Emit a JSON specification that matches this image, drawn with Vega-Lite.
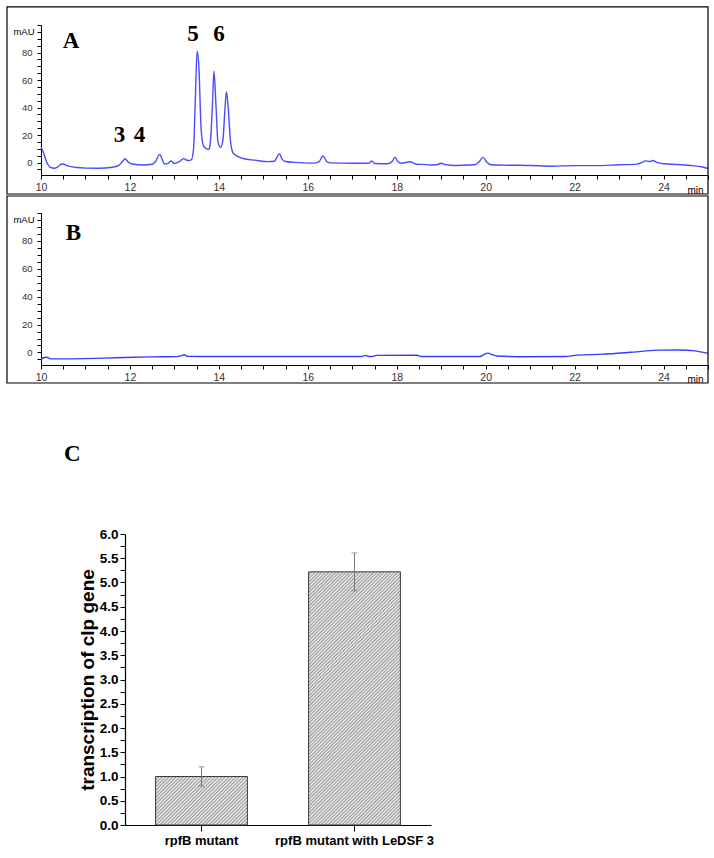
{
  "$schema": "https://vega.github.io/schema/vega-lite/v6.json",
  "padding": {"left": 6, "top": 6, "right": 0, "bottom": 0},
  "background": "white",
  "config": {
    "view": {"stroke": null},
    "font": "Liberation Sans",
    "axis": {"grid": false, "domainColor": "black", "tickColor": "black", "labelColor": "#333", "labelOverlap": false, "labelFlush": false}
  },
  "datasets": {
    "traceA": [
      {"t": 10.0, "v": 11}, {"t": 10.06, "v": 7}, {"t": 10.12, "v": 1}, {"t": 10.2, "v": -3.2}, {"t": 10.3, "v": -4.1},
      {"t": 10.38, "v": -3}, {"t": 10.45, "v": -1.2}, {"t": 10.5, "v": -1.0}, {"t": 10.6, "v": -2.4}, {"t": 10.8, "v": -3.6},
      {"t": 11.0, "v": -4.0}, {"t": 11.3, "v": -4.1}, {"t": 11.6, "v": -3.4}, {"t": 11.75, "v": -2.0}, {"t": 11.82, "v": 0.2},
      {"t": 11.89, "v": 2.8}, {"t": 11.96, "v": 0.5}, {"t": 12.05, "v": -1}, {"t": 12.3, "v": -1.7}, {"t": 12.5, "v": -1.2},
      {"t": 12.58, "v": 1}, {"t": 12.67, "v": 6}, {"t": 12.73, "v": 2}, {"t": 12.78, "v": -1}, {"t": 12.85, "v": -0.6},
      {"t": 12.93, "v": 1.2}, {"t": 13.0, "v": -0.7}, {"t": 13.1, "v": 0.5}, {"t": 13.21, "v": 2.9}, {"t": 13.3, "v": 1.5},
      {"t": 13.38, "v": 2}, {"t": 13.43, "v": 10}, {"t": 13.47, "v": 45}, {"t": 13.51, "v": 81}, {"t": 13.55, "v": 70},
      {"t": 13.6, "v": 25}, {"t": 13.65, "v": 12.5}, {"t": 13.72, "v": 10}, {"t": 13.77, "v": 9.5}, {"t": 13.8, "v": 12},
      {"t": 13.85, "v": 38}, {"t": 13.89, "v": 66.5}, {"t": 13.93, "v": 45}, {"t": 13.98, "v": 15}, {"t": 14.04, "v": 11.2},
      {"t": 14.09, "v": 16}, {"t": 14.13, "v": 35}, {"t": 14.17, "v": 51.5}, {"t": 14.21, "v": 40}, {"t": 14.26, "v": 16},
      {"t": 14.32, "v": 7}, {"t": 14.42, "v": 4.5}, {"t": 14.6, "v": 2.6}, {"t": 14.8, "v": 1.8}, {"t": 15.1, "v": 0.7},
      {"t": 15.25, "v": 1.0}, {"t": 15.3, "v": 3.5}, {"t": 15.36, "v": 6.5}, {"t": 15.42, "v": 2.5}, {"t": 15.5, "v": 0.8},
      {"t": 15.7, "v": 0.2}, {"t": 16.1, "v": -0.4}, {"t": 16.25, "v": 0.5}, {"t": 16.34, "v": 4.8}, {"t": 16.42, "v": 1},
      {"t": 16.5, "v": -0.2}, {"t": 17.0, "v": -0.5}, {"t": 17.38, "v": -0.4}, {"t": 17.44, "v": 1.2}, {"t": 17.5, "v": -0.6},
      {"t": 17.8, "v": -0.8}, {"t": 17.9, "v": 1}, {"t": 17.96, "v": 3.8}, {"t": 18.02, "v": 1}, {"t": 18.1, "v": -0.5},
      {"t": 18.3, "v": 0.6}, {"t": 18.45, "v": -1.2}, {"t": 18.6, "v": -1.3}, {"t": 18.75, "v": -1.7}, {"t": 18.9, "v": -1.5},
      {"t": 19.0, "v": -0.5}, {"t": 19.1, "v": -1.5}, {"t": 19.3, "v": -2.1}, {"t": 19.75, "v": -1.5}, {"t": 19.85, "v": 0.5},
      {"t": 19.94, "v": 3.8}, {"t": 20.02, "v": 0.5}, {"t": 20.12, "v": -1.5}, {"t": 20.4, "v": -1.8}, {"t": 21.0, "v": -2.1},
      {"t": 21.5, "v": -2.6}, {"t": 22.0, "v": -2.2}, {"t": 22.5, "v": -2.2}, {"t": 23.0, "v": -1.6}, {"t": 23.4, "v": -1.1},
      {"t": 23.52, "v": 0.2}, {"t": 23.6, "v": 1.3}, {"t": 23.68, "v": 0.8}, {"t": 23.76, "v": 1.5}, {"t": 23.85, "v": 0.2},
      {"t": 24.0, "v": -0.8}, {"t": 24.3, "v": -1.4}, {"t": 24.65, "v": -2.2}, {"t": 24.85, "v": -3.0}, {"t": 25.0, "v": -4.3}
    ],
    "traceB": [
      {"t": 10.0, "v": -4.8}, {"t": 10.06, "v": -3.8}, {"t": 10.13, "v": -3.4}, {"t": 10.22, "v": -4.6}, {"t": 10.5, "v": -4.6},
      {"t": 11.0, "v": -4.4}, {"t": 11.7, "v": -3.8}, {"t": 12.5, "v": -3.2}, {"t": 13.05, "v": -3.0}, {"t": 13.15, "v": -2.4},
      {"t": 13.22, "v": -1.7}, {"t": 13.3, "v": -2.8}, {"t": 13.6, "v": -2.9}, {"t": 17.2, "v": -2.9}, {"t": 17.3, "v": -2.1},
      {"t": 17.37, "v": -2.9}, {"t": 17.45, "v": -2.9}, {"t": 17.55, "v": -2.1}, {"t": 18.45, "v": -2.0}, {"t": 18.56, "v": -2.9},
      {"t": 19.87, "v": -2.9}, {"t": 19.97, "v": -1.4}, {"t": 20.05, "v": -0.5}, {"t": 20.15, "v": -1.6}, {"t": 20.25, "v": -2.5},
      {"t": 20.9, "v": -3.1}, {"t": 21.8, "v": -2.9}, {"t": 22.0, "v": -2.1}, {"t": 22.5, "v": -1.4}, {"t": 22.9, "v": -0.8},
      {"t": 23.5, "v": 0.8}, {"t": 23.9, "v": 1.7}, {"t": 24.35, "v": 1.8}, {"t": 24.7, "v": 1.1}, {"t": 25.0, "v": -0.7}
    ],
    "labelsA": [
      {"label": "A", "t": 10.675, "v": 88.4},
      {"label": "5", "t": 13.418, "v": 93.5},
      {"label": "6", "t": 14.003, "v": 93.5},
      {"label": "3", "t": 11.765, "v": 20.4},
      {"label": "4", "t": 12.215, "v": 20.4}
    ],
    "labelsB": [
      {"label": "B", "t": 10.73, "v": 85.7}
    ],
    "bars": [
      {"group": "rpfB mutant", "mean": 1.0, "lo": 0.8, "hi": 1.2},
      {"group": "rpfB mutant with LeDSF 3", "mean": 5.22, "lo": 4.83, "hi": 5.61}
    ]
  },
  "spacing": 59,
  "vconcat": [
    {
      "spacing": 0,
      "vconcat": [
        {
          "width": 667,
          "height": 150,
          "layer": [
            {
              "data": {"name": "traceA"},
              "mark": {"type": "line", "color": "#4b4bff", "strokeWidth": 1.4, "interpolate": "monotone"},
              "encoding": {
                "x": {"field": "t", "type": "quantitative", "title": "min", "scale": {"domain": [10, 25], "nice": false, "zero": false},
                  "axis": {"tickCount": 30, "labelExpr": "datum.value % 2 == 0 ? format(datum.value, 'd') : ''", "titleX": 662, "titleY": 15, "titleAlign": "right", "titleBaseline": "middle", "titleFontSize": 10, "titleFontWeight": "normal", "labelFontSize": 10.5, "tickSize": 4, "labelPadding": 3, "labelOverlap": false}},
                "y": {"field": "v", "type": "quantitative", "title": "mAU", "scale": {"domain": [-9, 100], "nice": false, "zero": false},
                  "axis": {"tickCount": 22, "labelExpr": "datum.value % 20 == 0 && datum.value < 100 ? format(datum.value, 'd') : ''", "titleAngle": 0, "titleX": -7, "titleY": 6, "titleAlign": "right", "titleBaseline": "middle", "titleFontSize": 9.5, "titleFontWeight": "normal", "labelFontSize": 9.5, "tickSize": 4, "labelPadding": 5, "labelOverlap": false}}
              }
            },
            {
              "data": {"values": [{}]},
              "mark": {"type": "rect", "filled": false, "color": "black", "strokeWidth": 1.2},
              "encoding": {
                "x": {"datum": 9.235, "type": "quantitative", "title": "min", "scale": {"domain": [10, 25], "nice": false, "zero": false},
                  "axis": {"tickCount": 30, "labelExpr": "datum.value % 2 == 0 ? format(datum.value, 'd') : ''", "titleX": 662, "titleY": 15, "titleAlign": "right", "titleBaseline": "middle", "titleFontSize": 10, "titleFontWeight": "normal", "labelFontSize": 10.5, "tickSize": 4, "labelPadding": 3, "labelOverlap": false}},
                "x2": {"datum": 25},
                "y": {"datum": -22.8, "type": "quantitative", "title": "mAU", "scale": {"domain": [-9, 100], "nice": false, "zero": false},
                  "axis": {"tickCount": 22, "labelExpr": "datum.value % 20 == 0 && datum.value < 100 ? format(datum.value, 'd') : ''", "titleAngle": 0, "titleX": -7, "titleY": 6, "titleAlign": "right", "titleBaseline": "middle", "titleFontSize": 9.5, "titleFontWeight": "normal", "labelFontSize": 9.5, "tickSize": 4, "labelPadding": 5, "labelOverlap": false}},
                "y2": {"datum": 113.1}
              }
            },
            {
              "data": {"name": "labelsA"},
              "mark": {"type": "text", "font": "Liberation Serif", "fontWeight": "bold", "fontSize": 23, "color": "black", "baseline": "middle", "align": "center"},
              "encoding": {
                "x": {"field": "t", "type": "quantitative", "title": "min", "scale": {"domain": [10, 25], "nice": false, "zero": false},
                  "axis": {"tickCount": 30, "labelExpr": "datum.value % 2 == 0 ? format(datum.value, 'd') : ''", "titleX": 662, "titleY": 15, "titleAlign": "right", "titleBaseline": "middle", "titleFontSize": 10, "titleFontWeight": "normal", "labelFontSize": 10.5, "tickSize": 4, "labelPadding": 3, "labelOverlap": false}},
                "y": {"field": "v", "type": "quantitative", "title": "mAU", "scale": {"domain": [-9, 100], "nice": false, "zero": false},
                  "axis": {"tickCount": 22, "labelExpr": "datum.value % 20 == 0 && datum.value < 100 ? format(datum.value, 'd') : ''", "titleAngle": 0, "titleX": -7, "titleY": 6, "titleAlign": "right", "titleBaseline": "middle", "titleFontSize": 9.5, "titleFontWeight": "normal", "labelFontSize": 9.5, "tickSize": 4, "labelPadding": 5, "labelOverlap": false}},
                "text": {"field": "label"}
              }
            }
          ]
        },
        {
          "width": 667,
          "height": 152,
          "layer": [
            {
              "data": {"name": "traceB"},
              "mark": {"type": "line", "color": "#3a3aff", "strokeWidth": 1.4, "interpolate": "monotone"},
              "encoding": {
                "x": {"field": "t", "type": "quantitative", "title": "min", "scale": {"domain": [10, 25], "nice": false, "zero": false},
                  "axis": {"tickCount": 30, "labelExpr": "datum.value % 2 == 0 ? format(datum.value, 'd') : ''", "titleX": 662, "titleY": 14, "titleAlign": "right", "titleBaseline": "middle", "titleFontSize": 10, "titleFontWeight": "normal", "labelFontSize": 10.5, "tickSize": 4, "labelPadding": 3, "labelOverlap": false}},
                "y": {"field": "v", "type": "quantitative", "title": "mAU", "scale": {"domain": [-9, 100], "nice": false, "zero": false},
                  "axis": {"tickCount": 22, "labelExpr": "datum.value % 20 == 0 && datum.value < 100 ? format(datum.value, 'd') : ''", "titleAngle": 0, "titleX": -7, "titleY": 6, "titleAlign": "right", "titleBaseline": "middle", "titleFontSize": 9.5, "titleFontWeight": "normal", "labelFontSize": 9.5, "tickSize": 4, "labelPadding": 5, "labelOverlap": false}}
              }
            },
            {
              "data": {"values": [{}]},
              "mark": {"type": "rect", "filled": false, "color": "black", "strokeWidth": 1.2},
              "encoding": {
                "x": {"datum": 9.235, "type": "quantitative", "title": "min", "scale": {"domain": [10, 25], "nice": false, "zero": false},
                  "axis": {"tickCount": 30, "labelExpr": "datum.value % 2 == 0 ? format(datum.value, 'd') : ''", "titleX": 662, "titleY": 14, "titleAlign": "right", "titleBaseline": "middle", "titleFontSize": 10, "titleFontWeight": "normal", "labelFontSize": 10.5, "tickSize": 4, "labelPadding": 3, "labelOverlap": false}},
                "x2": {"datum": 25},
                "y": {"datum": -21.9, "type": "quantitative", "title": "mAU", "scale": {"domain": [-9, 100], "nice": false, "zero": false},
                  "axis": {"tickCount": 22, "labelExpr": "datum.value % 20 == 0 && datum.value < 100 ? format(datum.value, 'd') : ''", "titleAngle": 0, "titleX": -7, "titleY": 6, "titleAlign": "right", "titleBaseline": "middle", "titleFontSize": 9.5, "titleFontWeight": "normal", "labelFontSize": 9.5, "tickSize": 4, "labelPadding": 5, "labelOverlap": false}},
                "y2": {"datum": 112.2}
              }
            },
            {
              "data": {"name": "labelsB"},
              "mark": {"type": "text", "font": "Liberation Serif", "fontWeight": "bold", "fontSize": 23, "color": "black", "baseline": "middle", "align": "center"},
              "encoding": {
                "x": {"field": "t", "type": "quantitative", "title": "min", "scale": {"domain": [10, 25], "nice": false, "zero": false},
                  "axis": {"tickCount": 30, "labelExpr": "datum.value % 2 == 0 ? format(datum.value, 'd') : ''", "titleX": 662, "titleY": 14, "titleAlign": "right", "titleBaseline": "middle", "titleFontSize": 10, "titleFontWeight": "normal", "labelFontSize": 10.5, "tickSize": 4, "labelPadding": 3, "labelOverlap": false}},
                "y": {"field": "v", "type": "quantitative", "title": "mAU", "scale": {"domain": [-9, 100], "nice": false, "zero": false},
                  "axis": {"tickCount": 22, "labelExpr": "datum.value % 20 == 0 && datum.value < 100 ? format(datum.value, 'd') : ''", "titleAngle": 0, "titleX": -7, "titleY": 6, "titleAlign": "right", "titleBaseline": "middle", "titleFontSize": 9.5, "titleFontWeight": "normal", "labelFontSize": 9.5, "tickSize": 4, "labelPadding": 5, "labelOverlap": false}},
                "text": {"field": "label"}
              }
            }
          ]
        }
      ]
    },
    {
      "width": 390,
      "height": 291,
      "title": {"text": "C", "anchor": "start", "frame": "group", "dx": 23, "offset": 43, "font": "Liberation Serif", "fontSize": 23, "fontWeight": "bold", "baseline": "alphabetic", "color": "black"},
      "data": {"name": "bars"},
      "layer": [
        {
          "transform": [{"filter": "datum.group == 'rpfB mutant'"}],
          "mark": {"type": "bar", "stroke": "#3a3a3a", "strokeWidth": 1,
            "fill": {"gradient": "linear", "x1": 0, "y1": 0, "x2": 1.1949, "y2": 0.6313, "stops": [
              {"offset": 0, "color": "#999"}, {"offset": 0.0125, "color": "#f4f4f4"}, {"offset": 0.025, "color": "#999"}, {"offset": 0.0375, "color": "#f4f4f4"},
              {"offset": 0.05, "color": "#999"}, {"offset": 0.0625, "color": "#f4f4f4"}, {"offset": 0.075, "color": "#999"}, {"offset": 0.0875, "color": "#f4f4f4"},
              {"offset": 0.1, "color": "#999"}, {"offset": 0.1125, "color": "#f4f4f4"}, {"offset": 0.125, "color": "#999"}, {"offset": 0.1375, "color": "#f4f4f4"},
              {"offset": 0.15, "color": "#999"}, {"offset": 0.1625, "color": "#f4f4f4"}, {"offset": 0.175, "color": "#999"}, {"offset": 0.1875, "color": "#f4f4f4"},
              {"offset": 0.2, "color": "#999"}, {"offset": 0.2125, "color": "#f4f4f4"}, {"offset": 0.225, "color": "#999"}, {"offset": 0.2375, "color": "#f4f4f4"},
              {"offset": 0.25, "color": "#999"}, {"offset": 0.2625, "color": "#f4f4f4"}, {"offset": 0.275, "color": "#999"}, {"offset": 0.2875, "color": "#f4f4f4"},
              {"offset": 0.3, "color": "#999"}, {"offset": 0.3125, "color": "#f4f4f4"}, {"offset": 0.325, "color": "#999"}, {"offset": 0.3375, "color": "#f4f4f4"},
              {"offset": 0.35, "color": "#999"}, {"offset": 0.3625, "color": "#f4f4f4"}, {"offset": 0.375, "color": "#999"}, {"offset": 0.3875, "color": "#f4f4f4"},
              {"offset": 0.4, "color": "#999"}, {"offset": 0.4125, "color": "#f4f4f4"}, {"offset": 0.425, "color": "#999"}, {"offset": 0.4375, "color": "#f4f4f4"},
              {"offset": 0.45, "color": "#999"}, {"offset": 0.4625, "color": "#f4f4f4"}, {"offset": 0.475, "color": "#999"}, {"offset": 0.4875, "color": "#f4f4f4"},
              {"offset": 0.5, "color": "#999"}, {"offset": 0.5125, "color": "#f4f4f4"}, {"offset": 0.525, "color": "#999"}, {"offset": 0.5375, "color": "#f4f4f4"},
              {"offset": 0.55, "color": "#999"}, {"offset": 0.5625, "color": "#f4f4f4"}, {"offset": 0.575, "color": "#999"}, {"offset": 0.5875, "color": "#f4f4f4"},
              {"offset": 0.6, "color": "#999"}, {"offset": 0.6125, "color": "#f4f4f4"}, {"offset": 0.625, "color": "#999"}, {"offset": 0.6375, "color": "#f4f4f4"},
              {"offset": 0.65, "color": "#999"}, {"offset": 0.6625, "color": "#f4f4f4"}, {"offset": 0.675, "color": "#999"}, {"offset": 0.6875, "color": "#f4f4f4"},
              {"offset": 0.7, "color": "#999"}, {"offset": 0.7125, "color": "#f4f4f4"}, {"offset": 0.725, "color": "#999"}, {"offset": 0.7375, "color": "#f4f4f4"},
              {"offset": 0.75, "color": "#999"}, {"offset": 0.7625, "color": "#f4f4f4"}, {"offset": 0.775, "color": "#999"}, {"offset": 0.7875, "color": "#f4f4f4"},
              {"offset": 0.8, "color": "#999"}, {"offset": 0.8125, "color": "#f4f4f4"}, {"offset": 0.825, "color": "#999"}, {"offset": 0.8375, "color": "#f4f4f4"},
              {"offset": 0.85, "color": "#999"}, {"offset": 0.8625, "color": "#f4f4f4"}, {"offset": 0.875, "color": "#999"}, {"offset": 0.8875, "color": "#f4f4f4"},
              {"offset": 0.9, "color": "#999"}, {"offset": 0.9125, "color": "#f4f4f4"}, {"offset": 0.925, "color": "#999"}, {"offset": 0.9375, "color": "#f4f4f4"},
              {"offset": 0.95, "color": "#999"}, {"offset": 0.9625, "color": "#f4f4f4"}, {"offset": 0.975, "color": "#999"}, {"offset": 0.9875, "color": "#f4f4f4"},
              {"offset": 1, "color": "#999"}
            ]}},
          "encoding": {
            "x": {"field": "group", "type": "nominal", "sort": null, "title": null,
              "scale": {"domain": ["rpfB mutant", "rpfB mutant with LeDSF 3"], "range": [84, 390], "paddingInner": 0.4, "paddingOuter": 0.2},
              "axis": {"labelAngle": 0, "labelFontSize": 13, "labelFontWeight": "bold", "labelColor": "black", "tickSize": 6, "labelPadding": 3, "domainWidth": 1.2}},
            "y": {"field": "mean", "type": "quantitative", "title": "transcription of clp gene", "scale": {"domain": [0, 6], "nice": false},
              "axis": {"values": [0,0.25,0.5,0.75,1,1.25,1.5,1.75,2,2.25,2.5,2.75,3,3.25,3.5,3.75,4,4.25,4.5,4.75,5,5.25,5.5,5.75,6], "labelExpr": "(datum.value * 4) % 2 == 0 ? format(datum.value, '.1f') : ''", "labelOverlap": false,
                "offset": -84, "titleFontSize": 19, "titleFontWeight": "bold", "titleColor": "black",
                "labelFontSize": 13.5, "labelFontWeight": "bold", "labelColor": "black", "tickSize": 5, "labelPadding": 2, "titlePadding": 2, "domainWidth": 1.2}}
          }
        },
        {
          "transform": [{"filter": "datum.group == 'rpfB mutant with LeDSF 3'"}],
          "mark": {"type": "bar", "stroke": "#3a3a3a", "strokeWidth": 1,
            "fill": {"gradient": "linear", "x1": 0, "y1": 0, "x2": 0.43667, "y2": 1.20429, "stops": [
              {"offset": 0, "color": "#999"}, {"offset": 0.005, "color": "#f4f4f4"}, {"offset": 0.01, "color": "#999"}, {"offset": 0.015, "color": "#f4f4f4"},
              {"offset": 0.02, "color": "#999"}, {"offset": 0.025, "color": "#f4f4f4"}, {"offset": 0.03, "color": "#999"}, {"offset": 0.035, "color": "#f4f4f4"},
              {"offset": 0.04, "color": "#999"}, {"offset": 0.045, "color": "#f4f4f4"}, {"offset": 0.05, "color": "#999"}, {"offset": 0.055, "color": "#f4f4f4"},
              {"offset": 0.06, "color": "#999"}, {"offset": 0.065, "color": "#f4f4f4"}, {"offset": 0.07, "color": "#999"}, {"offset": 0.075, "color": "#f4f4f4"},
              {"offset": 0.08, "color": "#999"}, {"offset": 0.085, "color": "#f4f4f4"}, {"offset": 0.09, "color": "#999"}, {"offset": 0.095, "color": "#f4f4f4"},
              {"offset": 0.1, "color": "#999"}, {"offset": 0.105, "color": "#f4f4f4"}, {"offset": 0.11, "color": "#999"}, {"offset": 0.115, "color": "#f4f4f4"},
              {"offset": 0.12, "color": "#999"}, {"offset": 0.125, "color": "#f4f4f4"}, {"offset": 0.13, "color": "#999"}, {"offset": 0.135, "color": "#f4f4f4"},
              {"offset": 0.14, "color": "#999"}, {"offset": 0.145, "color": "#f4f4f4"}, {"offset": 0.15, "color": "#999"}, {"offset": 0.155, "color": "#f4f4f4"},
              {"offset": 0.16, "color": "#999"}, {"offset": 0.165, "color": "#f4f4f4"}, {"offset": 0.17, "color": "#999"}, {"offset": 0.175, "color": "#f4f4f4"},
              {"offset": 0.18, "color": "#999"}, {"offset": 0.185, "color": "#f4f4f4"}, {"offset": 0.19, "color": "#999"}, {"offset": 0.195, "color": "#f4f4f4"},
              {"offset": 0.2, "color": "#999"}, {"offset": 0.205, "color": "#f4f4f4"}, {"offset": 0.21, "color": "#999"}, {"offset": 0.215, "color": "#f4f4f4"},
              {"offset": 0.22, "color": "#999"}, {"offset": 0.225, "color": "#f4f4f4"}, {"offset": 0.23, "color": "#999"}, {"offset": 0.235, "color": "#f4f4f4"},
              {"offset": 0.24, "color": "#999"}, {"offset": 0.245, "color": "#f4f4f4"}, {"offset": 0.25, "color": "#999"}, {"offset": 0.255, "color": "#f4f4f4"},
              {"offset": 0.26, "color": "#999"}, {"offset": 0.265, "color": "#f4f4f4"}, {"offset": 0.27, "color": "#999"}, {"offset": 0.275, "color": "#f4f4f4"},
              {"offset": 0.28, "color": "#999"}, {"offset": 0.285, "color": "#f4f4f4"}, {"offset": 0.29, "color": "#999"}, {"offset": 0.295, "color": "#f4f4f4"},
              {"offset": 0.3, "color": "#999"}, {"offset": 0.305, "color": "#f4f4f4"}, {"offset": 0.31, "color": "#999"}, {"offset": 0.315, "color": "#f4f4f4"},
              {"offset": 0.32, "color": "#999"}, {"offset": 0.325, "color": "#f4f4f4"}, {"offset": 0.33, "color": "#999"}, {"offset": 0.335, "color": "#f4f4f4"},
              {"offset": 0.34, "color": "#999"}, {"offset": 0.345, "color": "#f4f4f4"}, {"offset": 0.35, "color": "#999"}, {"offset": 0.355, "color": "#f4f4f4"},
              {"offset": 0.36, "color": "#999"}, {"offset": 0.365, "color": "#f4f4f4"}, {"offset": 0.37, "color": "#999"}, {"offset": 0.375, "color": "#f4f4f4"},
              {"offset": 0.38, "color": "#999"}, {"offset": 0.385, "color": "#f4f4f4"}, {"offset": 0.39, "color": "#999"}, {"offset": 0.395, "color": "#f4f4f4"},
              {"offset": 0.4, "color": "#999"}, {"offset": 0.405, "color": "#f4f4f4"}, {"offset": 0.41, "color": "#999"}, {"offset": 0.415, "color": "#f4f4f4"},
              {"offset": 0.42, "color": "#999"}, {"offset": 0.425, "color": "#f4f4f4"}, {"offset": 0.43, "color": "#999"}, {"offset": 0.435, "color": "#f4f4f4"},
              {"offset": 0.44, "color": "#999"}, {"offset": 0.445, "color": "#f4f4f4"}, {"offset": 0.45, "color": "#999"}, {"offset": 0.455, "color": "#f4f4f4"},
              {"offset": 0.46, "color": "#999"}, {"offset": 0.465, "color": "#f4f4f4"}, {"offset": 0.47, "color": "#999"}, {"offset": 0.475, "color": "#f4f4f4"},
              {"offset": 0.48, "color": "#999"}, {"offset": 0.485, "color": "#f4f4f4"}, {"offset": 0.49, "color": "#999"}, {"offset": 0.495, "color": "#f4f4f4"},
              {"offset": 0.5, "color": "#999"}, {"offset": 0.505, "color": "#f4f4f4"}, {"offset": 0.51, "color": "#999"}, {"offset": 0.515, "color": "#f4f4f4"},
              {"offset": 0.52, "color": "#999"}, {"offset": 0.525, "color": "#f4f4f4"}, {"offset": 0.53, "color": "#999"}, {"offset": 0.535, "color": "#f4f4f4"},
              {"offset": 0.54, "color": "#999"}, {"offset": 0.545, "color": "#f4f4f4"}, {"offset": 0.55, "color": "#999"}, {"offset": 0.555, "color": "#f4f4f4"},
              {"offset": 0.56, "color": "#999"}, {"offset": 0.565, "color": "#f4f4f4"}, {"offset": 0.57, "color": "#999"}, {"offset": 0.575, "color": "#f4f4f4"},
              {"offset": 0.58, "color": "#999"}, {"offset": 0.585, "color": "#f4f4f4"}, {"offset": 0.59, "color": "#999"}, {"offset": 0.595, "color": "#f4f4f4"},
              {"offset": 0.6, "color": "#999"}, {"offset": 0.605, "color": "#f4f4f4"}, {"offset": 0.61, "color": "#999"}, {"offset": 0.615, "color": "#f4f4f4"},
              {"offset": 0.62, "color": "#999"}, {"offset": 0.625, "color": "#f4f4f4"}, {"offset": 0.63, "color": "#999"}, {"offset": 0.635, "color": "#f4f4f4"},
              {"offset": 0.64, "color": "#999"}, {"offset": 0.645, "color": "#f4f4f4"}, {"offset": 0.65, "color": "#999"}, {"offset": 0.655, "color": "#f4f4f4"},
              {"offset": 0.66, "color": "#999"}, {"offset": 0.665, "color": "#f4f4f4"}, {"offset": 0.67, "color": "#999"}, {"offset": 0.675, "color": "#f4f4f4"},
              {"offset": 0.68, "color": "#999"}, {"offset": 0.685, "color": "#f4f4f4"}, {"offset": 0.69, "color": "#999"}, {"offset": 0.695, "color": "#f4f4f4"},
              {"offset": 0.7, "color": "#999"}, {"offset": 0.705, "color": "#f4f4f4"}, {"offset": 0.71, "color": "#999"}, {"offset": 0.715, "color": "#f4f4f4"},
              {"offset": 0.72, "color": "#999"}, {"offset": 0.725, "color": "#f4f4f4"}, {"offset": 0.73, "color": "#999"}, {"offset": 0.735, "color": "#f4f4f4"},
              {"offset": 0.74, "color": "#999"}, {"offset": 0.745, "color": "#f4f4f4"}, {"offset": 0.75, "color": "#999"}, {"offset": 0.755, "color": "#f4f4f4"},
              {"offset": 0.76, "color": "#999"}, {"offset": 0.765, "color": "#f4f4f4"}, {"offset": 0.77, "color": "#999"}, {"offset": 0.775, "color": "#f4f4f4"},
              {"offset": 0.78, "color": "#999"}, {"offset": 0.785, "color": "#f4f4f4"}, {"offset": 0.79, "color": "#999"}, {"offset": 0.795, "color": "#f4f4f4"},
              {"offset": 0.8, "color": "#999"}, {"offset": 0.805, "color": "#f4f4f4"}, {"offset": 0.81, "color": "#999"}, {"offset": 0.815, "color": "#f4f4f4"},
              {"offset": 0.82, "color": "#999"}, {"offset": 0.825, "color": "#f4f4f4"}, {"offset": 0.83, "color": "#999"}, {"offset": 0.835, "color": "#f4f4f4"},
              {"offset": 0.84, "color": "#999"}, {"offset": 0.845, "color": "#f4f4f4"}, {"offset": 0.85, "color": "#999"}, {"offset": 0.855, "color": "#f4f4f4"},
              {"offset": 0.86, "color": "#999"}, {"offset": 0.865, "color": "#f4f4f4"}, {"offset": 0.87, "color": "#999"}, {"offset": 0.875, "color": "#f4f4f4"},
              {"offset": 0.88, "color": "#999"}, {"offset": 0.885, "color": "#f4f4f4"}, {"offset": 0.89, "color": "#999"}, {"offset": 0.895, "color": "#f4f4f4"},
              {"offset": 0.9, "color": "#999"}, {"offset": 0.905, "color": "#f4f4f4"}, {"offset": 0.91, "color": "#999"}, {"offset": 0.915, "color": "#f4f4f4"},
              {"offset": 0.92, "color": "#999"}, {"offset": 0.925, "color": "#f4f4f4"}, {"offset": 0.93, "color": "#999"}, {"offset": 0.935, "color": "#f4f4f4"},
              {"offset": 0.94, "color": "#999"}, {"offset": 0.945, "color": "#f4f4f4"}, {"offset": 0.95, "color": "#999"}, {"offset": 0.955, "color": "#f4f4f4"},
              {"offset": 0.96, "color": "#999"}, {"offset": 0.965, "color": "#f4f4f4"}, {"offset": 0.97, "color": "#999"}, {"offset": 0.975, "color": "#f4f4f4"},
              {"offset": 0.98, "color": "#999"}, {"offset": 0.985, "color": "#f4f4f4"}, {"offset": 0.99, "color": "#999"}, {"offset": 0.995, "color": "#f4f4f4"},
              {"offset": 1, "color": "#999"}
            ]}},
          "encoding": {
            "x": {"field": "group", "type": "nominal", "sort": null, "title": null,
              "scale": {"domain": ["rpfB mutant", "rpfB mutant with LeDSF 3"], "range": [84, 390], "paddingInner": 0.4, "paddingOuter": 0.2},
              "axis": {"labelAngle": 0, "labelFontSize": 13, "labelFontWeight": "bold", "labelColor": "black", "tickSize": 6, "labelPadding": 3, "domainWidth": 1.2}},
            "y": {"field": "mean", "type": "quantitative", "title": "transcription of clp gene", "scale": {"domain": [0, 6], "nice": false},
              "axis": {"values": [0,0.25,0.5,0.75,1,1.25,1.5,1.75,2,2.25,2.5,2.75,3,3.25,3.5,3.75,4,4.25,4.5,4.75,5,5.25,5.5,5.75,6], "labelExpr": "(datum.value * 4) % 2 == 0 ? format(datum.value, '.1f') : ''", "labelOverlap": false,
                "offset": -84, "titleFontSize": 19, "titleFontWeight": "bold", "titleColor": "black",
                "labelFontSize": 13.5, "labelFontWeight": "bold", "labelColor": "black", "tickSize": 5, "labelPadding": 2, "titlePadding": 2, "domainWidth": 1.2}}
          }
        },
        {
          "mark": {"type": "errorbar", "ticks": true, "size": 6, "thickness": 1, "color": "#777777"},
          "encoding": {
            "x": {"field": "group", "type": "nominal", "sort": null, "title": null,
              "scale": {"domain": ["rpfB mutant", "rpfB mutant with LeDSF 3"], "range": [84, 390], "paddingInner": 0.4, "paddingOuter": 0.2},
              "axis": {"labelAngle": 0, "labelFontSize": 13, "labelFontWeight": "bold", "labelColor": "black", "tickSize": 6, "labelPadding": 3, "domainWidth": 1.2}},
            "y": {"field": "lo", "type": "quantitative", "title": "transcription of clp gene", "scale": {"domain": [0, 6], "nice": false},
              "axis": {"values": [0,0.25,0.5,0.75,1,1.25,1.5,1.75,2,2.25,2.5,2.75,3,3.25,3.5,3.75,4,4.25,4.5,4.75,5,5.25,5.5,5.75,6], "labelExpr": "(datum.value * 4) % 2 == 0 ? format(datum.value, '.1f') : ''", "labelOverlap": false,
                "offset": -84, "titleFontSize": 19, "titleFontWeight": "bold", "titleColor": "black",
                "labelFontSize": 13.5, "labelFontWeight": "bold", "labelColor": "black", "tickSize": 5, "labelPadding": 2, "titlePadding": 2, "domainWidth": 1.2}},
            "y2": {"field": "hi"}
          }
        }
      ]
    }
  ]
}
